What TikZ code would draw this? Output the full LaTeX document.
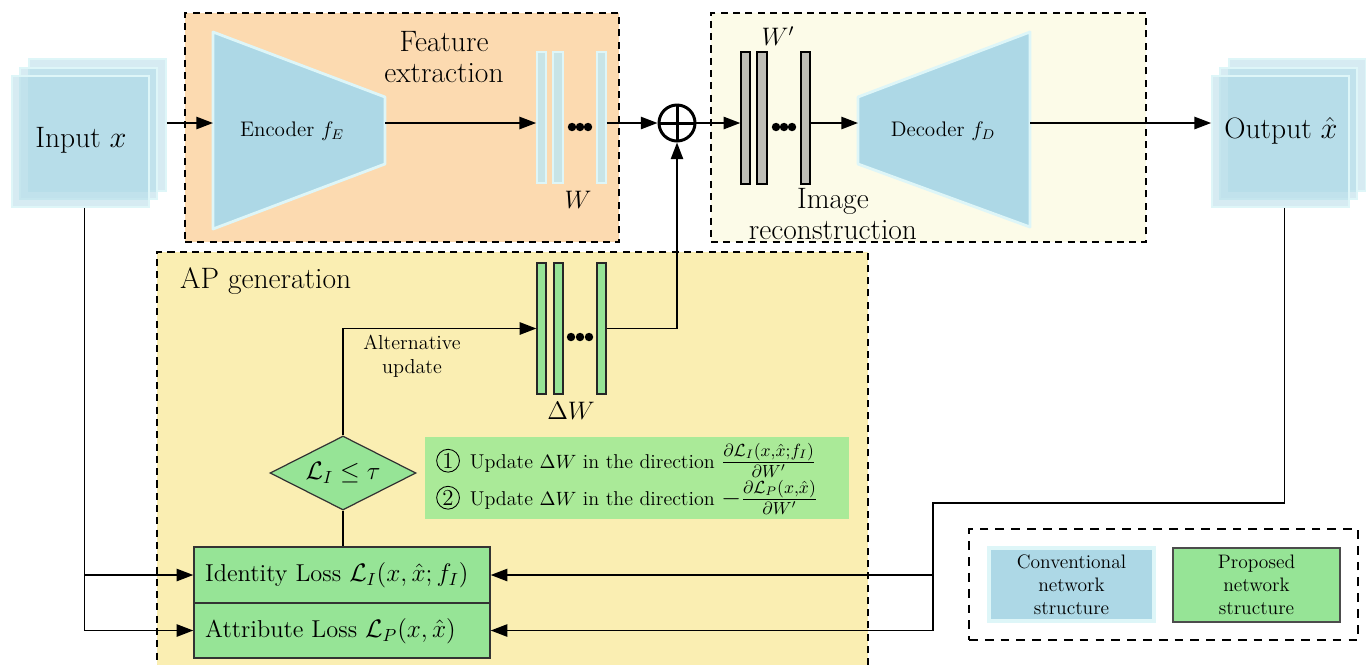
\documentclass[tikz,border=0pt]{standalone}
\usepackage{amsmath,amssymb}
\usetikzlibrary{arrows.meta,shapes.geometric,fit,calc}

\definecolor{convblue}{RGB}{173,216,230}
\definecolor{convedge}{RGB}{222,246,248}
\definecolor{propgreen}{RGB}{150,228,150}
\definecolor{infogreen}{RGB}{170,234,152}
\definecolor{featbg}{RGB}{252,218,176}
\definecolor{recbg}{RGB}{252,251,232}
\definecolor{apbg}{RGB}{250,238,178}
\definecolor{wbarc}{RGB}{200,228,230}
\definecolor{wpbarc}{RGB}{190,190,182}

\newcommand\circnum[1]{\tikz[baseline=(cn.base)]\node[draw,circle,inner sep=0pt,minimum size=13pt,line width=0.5pt,font=\fontsize{13}{15}\selectfont](cn){#1};}
\newcommand\gradfrac[1]{{\fontsize{13.8}{15}\selectfont$#1$}}

\begin{document}
\begin{tikzpicture}[x=0.02cm,y=-0.02cm,
  sheet/.style={fill=convblue,fill opacity=0.5,draw=convedge,line width=1pt,inner sep=0pt},
  convshape/.style={fill=convblue,draw=convedge,line width=1.6pt,line join=round},
  stage/.style={line width=1pt,dash pattern=on 4pt off 3pt,inner sep=0pt},
  conn/.style={line width=1pt,-{Triangle[length=9.5pt,width=7pt]}},
  wire/.style={line width=1pt},
  wbar/.style={fill=wbarc,draw=convedge,line width=1pt,inner sep=0pt},
  wpbar/.style={fill=wpbarc,draw=black,line width=0.8pt,inner sep=0pt},
  dwbar/.style={fill=propgreen,draw=black!85,line width=0.7pt,inner sep=0pt},
  lossbox/.style={fill=propgreen,draw=black!80,line width=0.8pt,inner sep=0pt},
  dot/.style={fill=black,circle,inner sep=0pt,minimum size=4.8pt},
  big/.style={font=\fontsize{16.8}{20}\selectfont,align=center},
  wlabel/.style={font=\fontsize{14.4}{17}\selectfont},
]
\clip (0,0) rectangle (1366,664);

% stage backgrounds
\node[stage,fill=featbg,draw,fit={(185,13) (619,242)}] (feat) {};
\node[stage,fill=recbg,draw,fit={(711,13) (1146,242)}] (rec) {};
\node[stage,fill=apbg,draw,fit={(157,252) (868,680)}] (ap) {};
\node[big,anchor=center] (featlbl) at (444,57) {Feature\\[-2pt]extraction};
\node[big,anchor=center] (reclbl) at (833,214) {Image\\[-2pt]reconstruction};
\node[big,anchor=west] (aplbl) at (174,281) {AP generation};

% input and output image stacks
\node[sheet,fit={(29,59) (166,191)}] (inB) {};
\node[sheet,fit={(20,68) (157,199)}] (inM) {};
\node[sheet,fit={(12,76) (149,207)}] (in) {};
\node[big] (inlbl) at (81,140) {Input $x$};
\node[sheet,fit={(1229,59) (1366,191)}] (outB) {};
\node[sheet,fit={(1220,68) (1357,199)}] (outM) {};
\node[sheet,fit={(1212,76) (1349,207)}] (out) {};
\node[big] (outlbl) at (1281,131) {Output $\hat{x}$};

% encoder and decoder
\draw[convshape] (213,32) -- (385,97) -- (385,164) -- (213,229) -- cycle;
\coordinate (encL) at (213,123);
\coordinate (encR) at (385,123);
\node[font=\fontsize{12}{14}\selectfont] (enc) at (292,131) {Encoder $f_E$};
\draw[convshape] (858,97) -- (1030,32) -- (1030,227) -- (858,164) -- cycle;
\coordinate (decL) at (858,123);
\coordinate (decR) at (1030,123);
\node[font=\fontsize{12}{14}\selectfont] (dec) at (943,131) {Decoder $f_D$};

% weight stacks
\node[wbar,fit={(537,52) (546,183)}] (w1) {};
\node[wbar,fit={(553,52) (563,183)}] (w2) {};
\node[wbar,fit={(597,52) (606,183)}] (w3) {};
\foreach \x [count=\i] in {572,580,588} \node[dot] (wd\i) at (\x,127) {};
\node[wlabel] (wlbl) at (578,200) {$W$};

\node[wpbar,fit={(741,52) (750,184)}] (wp1) {};
\node[wpbar,fit={(757,52) (767,184)}] (wp2) {};
\node[wpbar,fit={(801,52) (810,184)}] (wp3) {};
\foreach \x [count=\i] in {776,784,792} \node[dot] (wpd\i) at (\x,127) {};
\node[wlabel] (wplbl) at (778,36) {$W'$};

\node[dwbar,fit={(537,263) (546,394)}] (dw1) {};
\node[dwbar,fit={(554,263) (563,394)}] (dw2) {};
\node[dwbar,fit={(597,263) (606,394)}] (dw3) {};
\foreach \x [count=\i] in {571,580,589} \node[dot] (dwd\i) at (\x,337) {};
\node[wlabel] (dwlbl) at (571,411) {$\Delta W$};

% summation
\node[circle,draw,line width=1.7pt,minimum size=0.72cm,inner sep=0pt] (op) at (677,123) {};
\draw[line width=1.7pt] (op.north) -- (op.south) (op.west) -- (op.east);

% main data path
\draw[conn] (inB.east |- encL) -- (encL);
\draw[conn] (encR) -- (w1.west |- encR);
\draw[conn] (w3.east |- encR) -- (op.west);
\draw[conn] (op.east) -- (wp1.west |- op.east);
\draw[conn] (wp3.east |- decL) -- (decL);
\draw[conn] (decR) -- (out.west |- decR);

% AP generation
\node[diamond,fill=propgreen,draw=black!80,line width=0.7pt,aspect=2,inner sep=0pt,
      minimum width=2.92cm,minimum height=1.48cm,font=\fontsize{14}{16}\selectfont] (dia) at (343,473) {$\mathcal{L}_I \leq \tau$};
\node[lossbox,fit={(194,547) (490,603)}] (idl) {};
\node[lossbox,fit={(194,603) (490,658)}] (atl) {};
\node[anchor=west,font=\fontsize{13.9}{16}\selectfont] (idlbl) at (199,575) {Identity Loss $\mathcal{L}_I(x,\hat{x};f_I)$};
\node[anchor=west,font=\fontsize{13.9}{16}\selectfont] (atlbl) at (199,631) {Attribute Loss $\mathcal{L}_P(x,\hat{x})$};

\draw[conn] (dia.north) |- (dw1.west);
\draw[conn] (dw3.east) -| (op.south);
\draw[wire] (dia.south) -- (dia.south |- idl.north);
\node[font=\fontsize{11.5}{13.5}\selectfont,align=center] (altlbl) at (412,356) {Alternative\\update};

\node[fill=infogreen,inner sep=0pt,fit={(425,437) (849,519)}] (info) {};
\node[anchor=west,font=\fontsize{11.4}{13}\selectfont] (step1) at (430,460)
  {\circnum{1}\, Update $\Delta W$ in the direction \gradfrac{\frac{\partial\mathcal{L}_I(x,\hat{x};f_I)}{\partial W'}}};
\node[anchor=west,font=\fontsize{11.4}{13}\selectfont] (step2) at (430,497)
  {\circnum{2}\, Update $\Delta W$ in the direction \gradfrac{-\frac{\partial\mathcal{L}_P(x,\hat{x})}{\partial W'}}};

% loss inputs
\coordinate (tr) at (933,503);
\coordinate (inDrop) at ($(in.south)+(4,0)$);
\coordinate (outDrop) at ($(out.south)+(4,0)$);
\draw[conn] (outDrop) |- (tr) |- (atl.east);
\draw[conn] (tr |- idl.east) -- (idl.east);
\draw[conn] (inDrop) |- (atl.west);
\draw[conn] (inDrop |- idl.west) -- (idl.west);

% legend
\node[fit={(969,529) (1358,640)},draw,line width=1.6pt,dash pattern=on 5pt off 4pt,inner sep=0pt] (legend) {};
\node[fill=convblue,draw=convedge,line width=2.2pt,inner sep=0pt,fit={(989,548) (1154,621)}] (lgconv) {};
\node[font=\fontsize{11.1}{13}\selectfont,align=center] (lgconvlbl) at (lgconv.center) {Conventional\\network\\structure};
\node[fill=propgreen,draw=black!70,line width=0.6pt,inner sep=0pt,fit={(1173,548) (1340,622)}] (lgprop) {};
\node[font=\fontsize{11.1}{13}\selectfont,align=center] (lgproplbl) at (lgprop.center) {Proposed\\network\\structure};
\end{tikzpicture}
\end{document}
